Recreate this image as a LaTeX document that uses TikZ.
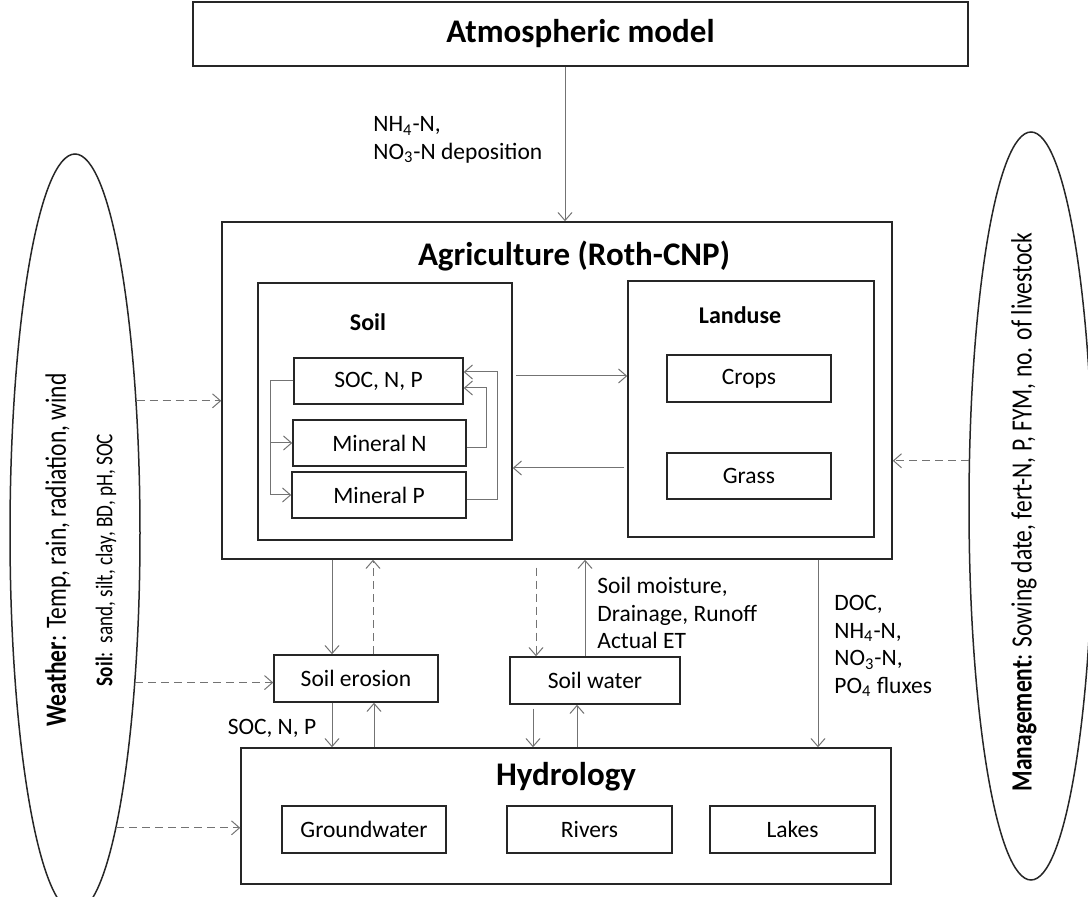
\documentclass[tikz,border=0pt]{standalone}
\usepackage{fontspec}
\setmainfont{Carlito}
\newfontfamily\condfont[FakeStretch=0.8]{Carlito}
\usetikzlibrary{arrows.meta,shapes.geometric,fit}

\tikzset{
  box/.style={draw=black!85, line width=0.75pt, inner sep=0pt},
  arr/.style={draw=black!55, line width=0.5pt, -{Straight Barb[length=4pt,width=7pt]}},
  darr/.style={arr, dash pattern=on 4pt off 2.5pt},
  lbl/.style={font=\fontsize{11.75}{13.75}\selectfont, align=left, inner sep=0pt},
  head/.style={font=\bfseries\fontsize{16.5}{20}\selectfont, inner sep=0pt},
  subhead/.style={font=\bfseries\fontsize{12}{14}\selectfont, inner sep=0pt},
  oval/.style={draw=black!85, line width=0.75pt, ellipse, inner sep=0pt},
  side/.style={rotate=90, font=\condfont\fontsize{14.7}{17}\selectfont, inner sep=0pt},
}

\begin{document}
\begin{tikzpicture}[x=0.5pt,y=0.5pt,yscale=-1]
\useasboundingbox (0,0) rectangle (1088,897);

%x and y positions of the links
\foreach \n in {332,373,374,533,536,565,577,585,818}
  \coordinate (x\n) at (\n,0);
\coordinate (y376) at (0,376);
\coordinate (y468) at (0,468);

%Shape: Atmosphere
\node[box, fit={(193,2) (968,66)}, label={[head, name=atmtxt]center:Atmospheric model}] (atm) {};

%Shape: Agriculture
\node[box, fit={(222,222) (892,559)}] (agri) {};
\node[head] (agrititle) at (574,256) {Agriculture (Roth-CNP)};

%Shape: Soil
\node[box, fit={(258,283) (512,540)}] (soil) {};
\node[subhead] (soiltitle) at (368,322) {Soil};
\node[box, fit={(294,358) (463,404)}, label={[lbl, name=soctxt]center:{SOC, N, P}}] (soc) {};
\node[box, fit={(293,420) (466,466)}, label={[lbl, name=minNtxt]center:Mineral N}] (minN) {};
\node[box, fit={(292,472) (466,518)}, label={[lbl, name=minPtxt]center:Mineral P}] (minP) {};

%Shape: Landuse
\node[box, fit={(628,281) (874,537)}] (land) {};
\node[subhead] (landtitle) at (740,315) {Landuse};
\node[box, fit={(667,355) (831,402)}, label={[lbl, name=cropstxt]center:Crops}] (crops) {};
\node[box, fit={(667,453) (831,499)}, label={[lbl, name=grasstxt]center:Grass}] (grass) {};

%Shape: Soil erosion, Soil water
\node[box, fit={(274,655) (438,702)}, label={[lbl, name=erotxt]center:Soil erosion}] (ero) {};
\node[box, fit={(510,657) (680,704)}, label={[lbl, name=wattxt]center:Soil water}] (wat) {};

%Shape: Hydrology
\node[box, fit={(241,748) (891,884)}] (hyd) {};
\node[head] (hydtitle) at (566,777) {Hydrology};
\node[box, fit={(282,806) (446,853)}, label={[lbl, name=gwtxt]center:Groundwater}] (gw) {};
\node[box, fit={(507,806) (672,853)}, label={[lbl, name=rivtxt]center:Rivers}] (riv) {};
\node[box, fit={(710,806) (875,853)}, label={[lbl, name=laktxt]center:Lakes}] (lak) {};

%Shape: Ellipses
\node[oval, minimum width=65pt, minimum height=379pt] (wea) at (75,533) {};
\node[side] (weatxt) at (58,550) {\textbf{Weather}: Temp, rain, radiation, wind};
\node[side, font=\condfont\fontsize{12}{14}\selectfont] (soiltxt) at (106,560) {\textbf{Soil}:\ \ sand, silt, clay, BD, pH, SOC};
\node[oval, minimum width=62pt, minimum height=374pt] (man) at (1031,506) {};
\node[side] (mantxt) at (1024,512) {\textbf{Management}: Sowing date, fert-N, P, FYM, no. of livestock};

%Labels
\node[lbl, anchor=west] (dep) at (373,140) {NH\textsubscript{4}-N,\\NO\textsubscript{3}-N deposition};
\node[lbl] (socnp) at (272,728) {SOC, N, P};
\node[lbl, anchor=west] (moist) at (597,613) {Soil moisture,\\Drainage, Runoff\\Actual ET};
\node[lbl, anchor=west] (flux) at (834,646) {DOC,\\NH\textsubscript{4}-N,\\NO\textsubscript{3}-N,\\PO\textsubscript{4} fluxes};

%Links
\draw[arr] (atm.south -| x565) -- (agri.north -| x565);
\draw[arr] ([xshift=1.5pt]soil.east |- y376) -- (land.west |- y376);
\draw[arr] ([xshift=-1.5pt]land.west |- y468) -- (soil.east |- y468);

\draw[arr] (soc.west) -- ++(-23,0) |- (minN.west);
\draw[arr] (soc.west) -- ++(-23,0) |- (minP.west);
\draw[arr] ([yshift=2.5pt]minN.east) -- ++(20,0) |- ([yshift=3.5pt]soc.east);
\draw[arr] ([yshift=2.5pt]minP.east) -- ++(31,0) |- ([yshift=-4.5pt]soc.east);

\draw[arr] (agri.south -| x332) -- (ero.north -| x332);
\draw[darr] (ero.north -| x373) -- (agri.south -| x373);
\draw[arr] (ero.south -| x332) -- (hyd.north -| x332);
\draw[arr] (hyd.north -| x374) -- (ero.south -| x374);

\draw[darr] ([yshift=4pt]agri.south -| x536) -- (wat.north -| x536);
\draw[arr] (wat.north -| x585) -- (agri.south -| x585);
\draw[arr] ([yshift=2pt]wat.south -| x533) -- (hyd.north -| x533);
\draw[arr] (hyd.north -| x577) -- (wat.south -| x577);

\draw[arr] (agri.south -| x818) -- (hyd.north -| x818);

\draw[darr] (wea.65.4) -- (wea.65.4 -| agri.west);
\draw[darr] (wea.-68.2) -- (wea.-68.2 -| ero.west);
\draw[darr] (wea.-82.4) -- (wea.-82.4 -| hyd.west);
\draw[darr] (man.144.5) -- (man.144.5 -| agri.east);

\end{tikzpicture}
\end{document}
